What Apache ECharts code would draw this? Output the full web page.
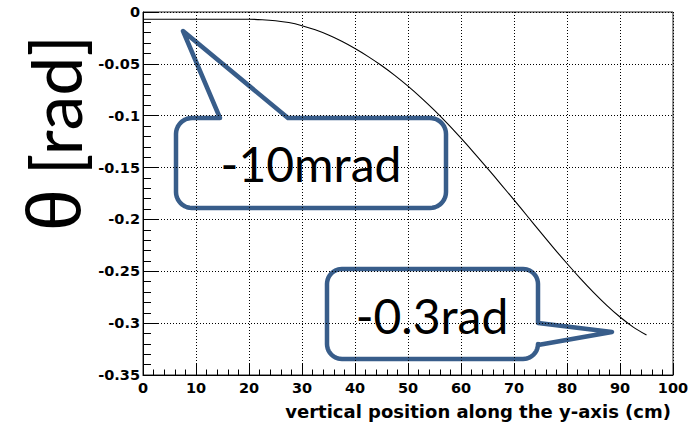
<!DOCTYPE html>
<html>
<head>
<meta charset="utf-8">
<script src="https://cdn.jsdelivr.net/npm/echarts@6/dist/echarts.min.js"></script>
<style>
  html, body { margin: 0; padding: 0; background: #ffffff; }
  #chart { width: 698px; height: 424px; }
</style>
</head>
<body>
<div id="chart"></div>
<script>
// Deflection angle along the vertical position
const positionCm = [0, 5, 10, 15, 20, 22.5, 25, 27.5, 30, 32.5, 35, 37.5, 40, 42.5, 45, 47.5,
  50, 52.5, 55, 57.5, 60, 62.5, 65, 67.5, 70, 72.5, 75, 77.5, 80, 82.5, 85, 87.5, 90, 92.5, 95];
const thetaRad = [-0.007, -0.007, -0.007, -0.007, -0.007, -0.0074, -0.0084, -0.0102, -0.0132, -0.0172,
  -0.0222, -0.0282, -0.0352, -0.043, -0.0516, -0.0611, -0.0715, -0.0828, -0.0949, -0.1079, -0.1217,
  -0.136, -0.1508, -0.1659, -0.1812, -0.1967, -0.2123, -0.2276, -0.2425, -0.2568, -0.2703, -0.2828,
  -0.2941, -0.3038, -0.3115];

// Axis ranges and steps
const xRange = [0, 100];
const xStep = 10;
const yRange = [-0.35, 0];
const yStep = 0.05;

const xTitle = 'vertical position along the y-axis (cm)';
const yTitleSymbol = 'θ';
const yTitleUnit = '[rad]';
const calloutTexts = ['-10mrad', '-0.3rad'];

const chart = echarts.init(document.getElementById('chart'), null, { renderer: 'svg' });

const tickFont = { color: '#000', fontFamily: 'DejaVu Sans', fontWeight: 'bold', fontSize: 14.5 };

// Rounded box outline with a wedge pointer, as a point list for a polygon
function calloutPoints(L, T, R, B, r, pointer) {
  const pts = [];
  const arc = (cx, cy, a0, a1) => {
    const n = 10;
    for (let i = 0; i <= n; i++) {
      const a = (a0 + (a1 - a0) * i / n) * Math.PI / 180;
      pts.push([cx + r * Math.cos(a), cy + r * Math.sin(a)]);
    }
  };
  pts.push([L + r, T]);
  if (pointer.side === 'top') {
    pts.push([pointer.base[0], T], pointer.tip, [pointer.base[1], T]);
  }
  arc(R - r, T + r, -90, 0);
  if (pointer.side === 'right') {
    pts.push([R, pointer.base[0]], pointer.tip, [R, pointer.base[1]]);
  }
  arc(R - r, B - r, 0, 90);
  arc(L + r, B - r, 90, 180);
  arc(L + r, T + r, 180, 270);
  return pts;
}

const calloutStyle = { fill: '#ffffff', stroke: '#385D8A', lineWidth: 4.5, lineJoin: 'round' };
const calloutFont = { fill: '#000', fontFamily: 'Lato', fontSize: 48, align: 'center', verticalAlign: 'middle' };

chart.setOption({
  backgroundColor: '#ffffff',
  animation: false,
  grid: {
    left: 143, right: 25, top: 12, bottom: 49,
    show: true, borderColor: '#222', borderWidth: 1, backgroundColor: 'transparent'
  },
  xAxis: {
    type: 'value',
    min: xRange[0], max: xRange[1], interval: xStep,
    name: xTitle,
    nameLocation: 'end',
    nameGap: -2,
    nameTextStyle: {
      color: '#000', fontFamily: 'DejaVu Sans', fontWeight: 'bold', fontSize: 18,
      align: 'right', verticalAlign: 'top', padding: [27, 0, 0, 0]
    },
    axisLine: { show: true, onZero: false, lineStyle: { color: '#000', width: 1 } },
    axisTick: { show: true, inside: true, length: 11, lineStyle: { color: '#000', width: 1 } },
    minorTick: { show: true, splitNumber: 5, length: 5.5, lineStyle: { color: '#000', width: 1 } },
    axisLabel: Object.assign({ margin: 5 }, tickFont),
    splitLine: { show: true, lineStyle: { color: '#000', width: 1, type: [1, 2] } }
  },
  yAxis: {
    type: 'value',
    min: yRange[0], max: yRange[1], interval: yStep,
    axisLine: { show: true, onZero: false, lineStyle: { color: '#000', width: 1 } },
    axisTick: { show: true, inside: true, length: 16, lineStyle: { color: '#000', width: 1 } },
    minorTick: { show: true, splitNumber: 5, length: 8, lineStyle: { color: '#000', width: 1 } },
    axisLabel: Object.assign({
      margin: 3,
      formatter: v => String(Number(v.toFixed(2)) || 0)
    }, tickFont),
    splitLine: { show: true, lineStyle: { color: '#000', width: 1, type: [1, 2] } }
  },
  series: [{
    type: 'line',
    data: positionCm.map((x, i) => [x, thetaRad[i]]),
    showSymbol: false,
    smooth: 0.3,
    lineStyle: { color: '#000', width: 1.1 },
    z: 3
  }],
  graphic: [
    // Vertical axis title, reading bottom to top
    {
      type: 'text',
      x: 55, y: 105,
      rotation: Math.PI / 2,
      style: { text: yTitleUnit, fontFamily: 'Lato', fontSize: 70, fill: '#000', align: 'center', verticalAlign: 'middle' }
    },
    {
      type: 'text',
      x: 53, y: 210,
      rotation: Math.PI / 2,
      style: { text: yTitleSymbol, fontFamily: 'Liberation Sans', fontSize: 76, fill: '#000', align: 'center', verticalAlign: 'middle' }
    },
    {
      type: 'group', z: 100,
      children: [
        {
          type: 'polygon',
          shape: { points: calloutPoints(176, 118, 446, 208, 16, { side: 'top', base: [220, 288], tip: [183, 31] }) },
          style: calloutStyle
        },
        { type: 'text', x: 311, y: 163, style: Object.assign({ text: calloutTexts[0] }, calloutFont) }
      ]
    },
    {
      type: 'group', z: 100,
      children: [
        {
          type: 'polygon',
          shape: { points: calloutPoints(327, 269, 538, 359, 15, { side: 'right', base: [323, 345], tip: [612, 332] }) },
          style: calloutStyle
        },
        { type: 'text', x: 432, y: 315, style: Object.assign({ text: calloutTexts[1] }, calloutFont) }
      ]
    }
  ]
});
</script>
</body>
</html>
